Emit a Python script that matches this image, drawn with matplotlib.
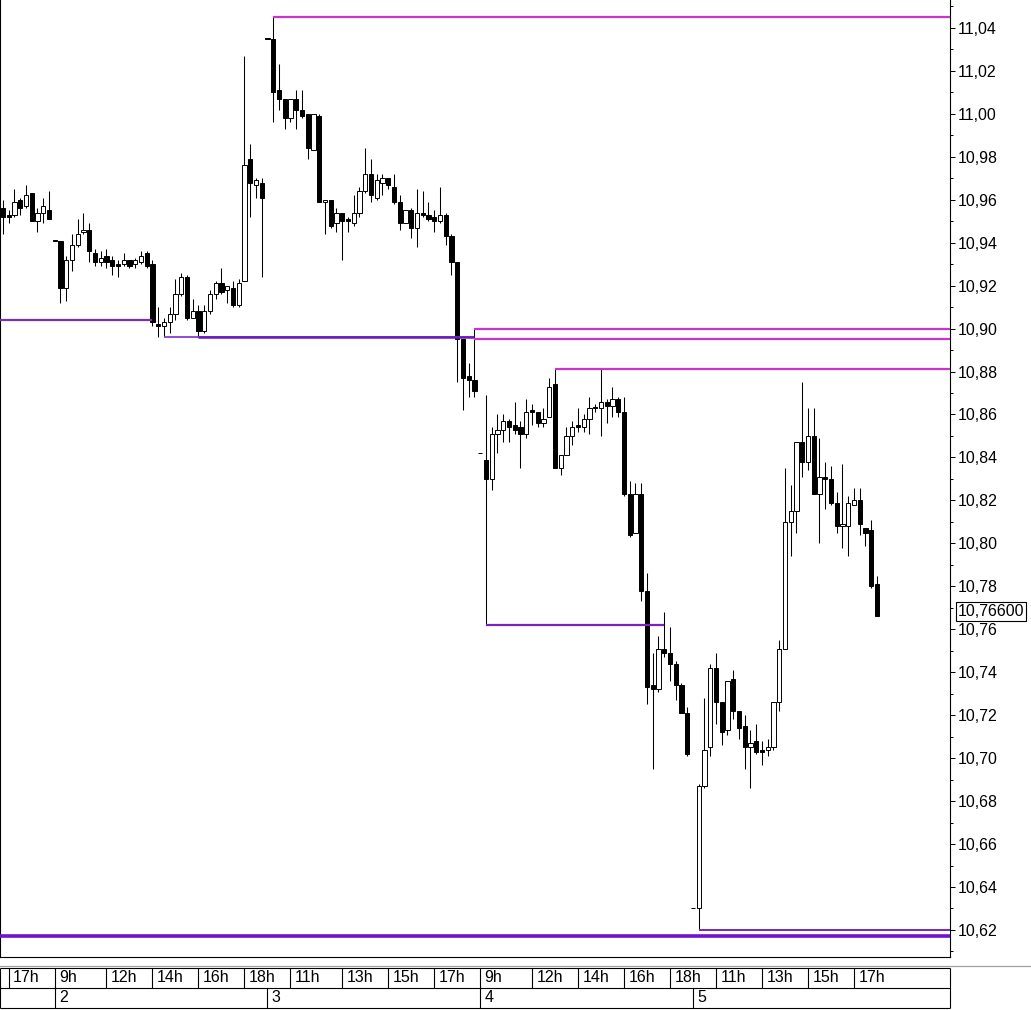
import matplotlib.pyplot as plt
from matplotlib.ticker import MultipleLocator, FuncFormatter
from matplotlib.lines import Line2D

plt.rcParams['font.family'] = ['Liberation Sans', 'DejaVu Sans']

# 15 minute candles, 5 sessions (days 1..5)
opens = [10.956, 10.953, 10.953, 10.960, 10.957, 10.963, 10.950, 10.954, 10.955,
         10.941, 10.941, 10.919, 10.932, 10.939, 10.945, 10.946, 10.935, 10.931, 10.934,
         10.932, 10.930, 10.930, 10.932, 10.930, 10.931, 10.935, 10.930, 10.902, 10.901,
         10.903, 10.907, 10.916, 10.924, 10.905, 10.908, 10.899, 10.908, 10.916, 10.921,
         10.918, 10.919, 10.911, 10.922, 10.979, 10.967, 10.968,
         11.035, 11.035, 11.011, 11.007, 10.998, 11.007, 11.002, 11.000, 10.983, 10.999,
         10.959, 10.960, 10.949, 10.954, 10.951, 10.949, 10.954, 10.964, 10.972, 10.961,
         10.968, 10.970, 10.966, 10.959, 10.949, 10.955, 10.947, 10.954, 10.953, 10.952,
         10.950, 10.953, 10.943, 10.931, 10.895, 10.878, 10.876,
         10.842, 10.839, 10.830, 10.851, 10.853, 10.857, 10.855, 10.854, 10.851, 10.862,
         10.861, 10.856, 10.859, 10.874, 10.835, 10.841, 10.850, 10.855, 10.854, 10.858,
         10.863, 10.863, 10.866, 10.864, 10.867, 10.861, 10.823, 10.805, 10.823, 10.778,
         10.734, 10.732, 10.751, 10.749, 10.744, 10.734, 10.721,
         10.630, 10.630, 10.687, 10.705, 10.742, 10.726, 10.713, 10.737, 10.722, 10.715,
         10.705, 10.708, 10.704, 10.704, 10.705, 10.726, 10.751, 10.810, 10.815, 10.847,
         10.838, 10.850, 10.823, 10.831, 10.830, 10.819, 10.808, 10.808, 10.818, 10.820,
         10.807, 10.806, 10.781]
highs = [10.960, 10.955, 10.965, 10.961, 10.967, 10.963, 10.956, 10.961, 10.964,
         10.941, 10.941, 10.934, 10.944, 10.951, 10.954, 10.949, 10.937, 10.936, 10.937,
         10.934, 10.932, 10.935, 10.932, 10.933, 10.936, 10.936, 10.932, 10.910, 10.905,
         10.910, 10.923, 10.926, 10.925, 10.914, 10.911, 10.911, 10.918, 10.922, 10.928,
         10.920, 10.922, 10.923, 11.027, 10.986, 10.970, 10.970,
         11.035, 11.045, 11.023, 11.007, 11.007, 11.011, 11.011, 11.000, 11.000, 11.000,
         10.960, 10.960, 10.956, 10.954, 10.952, 10.962, 10.966, 10.984, 10.979, 10.972,
         10.972, 10.970, 10.972, 10.962, 10.955, 10.956, 10.965, 10.964, 10.959, 10.955,
         10.966, 10.954, 10.944, 10.931, 10.895, 10.884, 10.900,
         10.842, 10.869, 10.854, 10.860, 10.860, 10.858, 10.866, 10.857, 10.867, 10.865,
         10.861, 10.863, 10.877, 10.881, 10.841, 10.854, 10.857, 10.863, 10.860, 10.868,
         10.865, 10.881, 10.867, 10.873, 10.868, 10.868, 10.829, 10.828, 10.828, 10.786,
         10.749, 10.757, 10.768, 10.761, 10.745, 10.735, 10.724,
         10.630, 10.688, 10.728, 10.744, 10.749, 10.726, 10.736, 10.741, 10.722, 10.720,
         10.713, 10.716, 10.708, 10.709, 10.726, 10.755, 10.835, 10.827, 10.847, 10.875,
         10.863, 10.863, 10.849, 10.838, 10.836, 10.824, 10.837, 10.822, 10.826, 10.826,
         10.807, 10.811, 10.785]
lows = [10.944, 10.949, 10.952, 10.953, 10.956, 10.950, 10.945, 10.949, 10.951,
        10.941, 10.912, 10.913, 10.927, 10.938, 10.944, 10.931, 10.929, 10.929, 10.928,
        10.925, 10.924, 10.929, 10.928, 10.928, 10.930, 10.928, 10.901, 10.896, 10.896,
        10.898, 10.904, 10.915, 10.904, 10.905, 10.896, 10.898, 10.907, 10.914, 10.916,
        10.912, 10.910, 10.910, 10.922, 10.952, 10.961, 10.924,
        11.035, 10.996, 11.002, 10.993, 10.996, 10.993, 10.998, 10.979, 10.983, 10.959,
        10.944, 10.947, 10.945, 10.932, 10.945, 10.948, 10.952, 10.963, 10.959, 10.960,
        10.962, 10.965, 10.958, 10.946, 10.949, 10.942, 10.938, 10.952, 10.950, 10.945,
        10.949, 10.939, 10.925, 10.875, 10.862, 10.868, 10.868,
        10.842, 10.762, 10.825, 10.842, 10.847, 10.847, 10.851, 10.835, 10.849, 10.855,
        10.854, 10.854, 10.859, 10.835, 10.832, 10.841, 10.846, 10.852, 10.852, 10.851,
        10.861, 10.850, 10.856, 10.859, 10.859, 10.822, 10.803, 10.805, 10.773, 10.725,
        10.695, 10.731, 10.747, 10.736, 10.727, 10.721, 10.701,
        10.630, 10.620, 10.686, 10.701, 10.716, 10.706, 10.711, 10.718, 10.709, 10.695,
        10.686, 10.702, 10.697, 10.701, 10.704, 10.722, 10.751, 10.794, 10.805, 10.831,
        10.834, 10.823, 10.800, 10.816, 10.818, 10.805, 10.798, 10.794, 10.818, 10.804,
        10.799, 10.779, 10.766]
closes = [10.952, 10.952, 10.959, 10.956, 10.962, 10.950, 10.954, 10.957, 10.951,
          10.941, 10.919, 10.932, 10.939, 10.944, 10.946, 10.936, 10.931, 10.933, 10.931,
          10.929, 10.929, 10.932, 10.929, 10.932, 10.934, 10.929, 10.903, 10.901, 10.903,
          10.907, 10.916, 10.924, 10.905, 10.908, 10.899, 10.908, 10.916, 10.921, 10.917,
          10.920, 10.911, 10.921, 10.976, 10.968, 10.969, 10.961,
          11.035, 11.010, 11.007, 10.998, 11.007, 11.002, 10.999, 10.984, 11.000, 10.959,
          10.960, 10.948, 10.954, 10.950, 10.950, 10.954, 10.964, 10.972, 10.962, 10.969,
          10.970, 10.967, 10.959, 10.949, 10.955, 10.947, 10.954, 10.953, 10.951, 10.950,
          10.953, 10.943, 10.931, 10.895, 10.877, 10.876, 10.871,
          10.842, 10.830, 10.851, 10.853, 10.857, 10.854, 10.853, 10.851, 10.861, 10.861,
          10.856, 10.858, 10.873, 10.835, 10.841, 10.850, 10.854, 10.854, 10.858, 10.863,
          10.863, 10.866, 10.864, 10.867, 10.861, 10.823, 10.804, 10.823, 10.778, 10.733,
          10.732, 10.751, 10.749, 10.744, 10.734, 10.721, 10.702,
          10.630, 10.687, 10.704, 10.742, 10.726, 10.712, 10.736, 10.722, 10.714, 10.705,
          10.707, 10.703, 10.703, 10.705, 10.726, 10.751, 10.810, 10.815, 10.847, 10.838,
          10.850, 10.823, 10.831, 10.830, 10.819, 10.808, 10.809, 10.819, 10.820, 10.809,
          10.805, 10.780, 10.766]

hour_pos = [1, 9, 18, 26, 34, 42, 50, 59, 67, 75, 83, 92, 100, 108, 116, 124, 132, 140, 148]
hour_labels = ['17h', '9h', '12h', '14h', '16h', '18h', '11h', '13h', '15h', '17h',
               '9h', '12h', '14h', '16h', '18h', '11h', '13h', '15h', '17h']
day_pos = [9, 46, 83, 120]
day_labels = ['2', '3', '4', '5']

# unbroken high / low levels: price, from candle, to candle (None = chart edge)
level_price = [11.045, 10.904, 10.896, 10.896, 10.8953, 10.900, 10.881, 10.762, 10.620, 10.617]
level_from = [47, None, 28, 34, 82, 82, 96, 84, 121, None]
level_to = [None, 26, 82, 82, None, None, None, 115, None, None]
level_color = ['#cc33cc', '#7a2fb8', '#8a3cd0', '#6a18c0', '#cc33cc', '#cc33cc', '#cc33cc',
               '#7a22c8', '#7a22c8', '#6e12d0']
level_width = [1.6, 1.6, 1.3, 1.8, 1.6, 1.6, 1.6, 1.6, 1.4, 2.6]

n = len(closes)
x = list(range(n))
xmin, xmax = -0.52, 164.7

fig = plt.figure(figsize=(10.31, 10.10), dpi=100)
ax = fig.add_axes([0, 53 / 1010, 950 / 1031, 957 / 1010])
ax.set_xlim(xmin, xmax)
ax.set_ylim(10.6074, 11.0530)

# candles
ax.vlines(x, lows, highs, color='black', linewidth=0.75, zorder=2)
bottoms = [min(o, c) for o, c in zip(opens, closes)]
heights = [max(abs(c - o), 0.0003) for o, c in zip(opens, closes)]
fills = ['white' if c > o else 'black' for o, c in zip(opens, closes)]
ax.bar(x, heights, bottom=bottoms, width=0.72, color=fills, edgecolor='black',
       linewidth=0.7, zorder=3)

# levels
for p, a, b, col, lw in zip(level_price, level_from, level_to, level_color, level_width):
    x0 = xmin if a is None else a
    x1 = xmax if b is None else b
    ax.hlines(p, x0, x1, color=col, linewidth=lw, zorder=4)

# price axis on the right
ax.spines['top'].set_visible(False)
ax.set_xticks([])
ax.yaxis.tick_right()
ax.yaxis.set_major_locator(MultipleLocator(0.02))
ax.yaxis.set_minor_locator(MultipleLocator(0.01))
ax.yaxis.set_major_formatter(FuncFormatter(lambda v, _: f'{v:.2f}'.replace('.', ',')))
ax.tick_params(axis='y', which='major', length=3.6, width=0.72, pad=2, labelsize=11.5)
ax.tick_params(axis='y', which='minor', length=2.2, width=0.72)
for s in ax.spines.values():
    s.set_linewidth(0.8)

last = closes[-1]
ax.annotate(f'{last:.5f}'.replace('.', ','), xy=(1, last), xycoords=('axes fraction', 'data'),
            xytext=(5.8, 3.6), textcoords='offset points', ha='left', va='center', fontsize=11.5,
            bbox=dict(boxstyle='square,pad=0.12', fc='white', ec='black', lw=0.8),
            annotation_clip=False, zorder=5)

# date table under the chart
fig.add_artist(Line2D([0, 1], [44.5 / 1010] * 2, color='#a0a0a0', linewidth=0.9))
axt = fig.add_axes([0, 2 / 1010, 950 / 1031, 40 / 1010])
axt.set_xlim(xmin, xmax)
axt.set_ylim(0, 2)
axt.axis('off')
axt.hlines([0, 1, 2], xmin, xmax, color='black', linewidth=0.8, clip_on=False)
axt.vlines([xmin, xmax], 0, 2, color='black', linewidth=0.8, clip_on=False)
axt.vlines(hour_pos, 1, 2, color='black', linewidth=0.8)
axt.vlines(day_pos, 0, 1, color='black', linewidth=0.8)
for p, lab in zip(hour_pos, hour_labels):
    axt.text(p + 0.75, 1.5, lab, ha='left', va='center', fontsize=11.5)
for p, lab in zip(day_pos, day_labels):
    axt.text(p + 0.75, 0.5, lab, ha='left', va='center', fontsize=11.5)

fig.savefig('out.png', dpi=100)
